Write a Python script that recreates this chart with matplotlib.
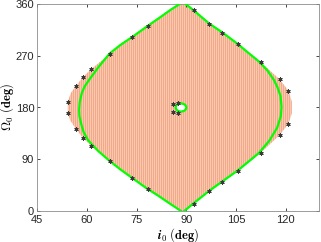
import numpy as np
import matplotlib
matplotlib.use("Agg")
import matplotlib.pyplot as plt
from matplotlib.patches import Polygon, Ellipse

plt.rcParams["font.family"] = ["Liberation Sans", "DejaVu Sans"]
plt.rcParams["mathtext.fontset"] = "cm"

# envelope curve (green), left and right branches: (i0, Omega0)
left_i = [88.4, 84.5, 81.7, 77.9, 73.8, 70.2, 66.9, 63.5, 60.4, 59.0, 58.3, 57.8, 57.7,
          57.9, 58.5, 59.4, 60.7, 63.5, 66.9, 70.2, 73.8, 77.9, 81.9, 85.3, 88.0]
left_om = [0, 15, 26, 40, 57, 72, 87, 104, 123, 138, 152, 165, 176,
           190, 205, 217, 228, 250, 274, 289, 303, 320, 336, 350, 360]
right_i = [89.4, 91.9, 96.9, 101.0, 105.4, 109.0, 111.9, 115.0, 117.4, 118.5, 118.7,
           118.4, 117.5, 116.4, 114.5, 111.9, 108.5, 105.4, 101.0, 96.9, 92.0, 89.8]
right_om = [0, 12, 35, 52, 70, 87, 101, 122, 145, 165, 181,
            200, 215, 228, 244, 260, 276, 291, 310, 326, 350, 360]

# numerical results (stars)
star_i = [78.4, 73.7, 66.9, 61.4, 58.9, 56.7, 54.4, 54.4, 56.7, 58.9, 61.4, 66.9, 73.6, 78.4,
          92.2, 96.9, 100.9, 105.6, 112.4, 118.1, 120.6, 120.6, 118.1, 112.4, 105.6, 100.9, 96.9, 92.2,
          85.9, 87.6, 85.9, 87.6]
star_om = [39, 58, 87, 113, 127, 143, 171, 190, 217, 233, 247, 273, 303, 322,
           12, 35, 50, 70, 101, 132, 152, 209, 229, 259, 290, 309, 326, 350,
           186, 188, 173, 170]

# outline of the feasible region (striped)
reg_i = [88.8, 78.4, 73.7, 66.9, 61.4, 58.9, 56.7, 55.0, 54.3, 54.3, 55.2, 56.7, 58.9, 61.4,
         66.9, 73.6, 78.4, 88.0, 89.6, 92.2, 96.9, 100.9, 105.6, 112.4, 118.1, 120.8, 121.8,
         121.8, 120.8, 118.1, 112.4, 105.6, 100.9, 96.9, 92.2, 89.4]
reg_om = [0, 39, 58, 87, 113, 127, 143, 158, 171, 190, 205, 217, 233, 247,
          273, 303, 322, 360, 360, 350, 326, 309, 290, 259, 229, 209, 190,
          170, 152, 132, 101, 70, 50, 35, 12, 0]

# small inner loop
loop_center = (88.4, 180)
loop_w, loop_h = 3.2, 14

W, H = 321, 242
ax_px = (37, 31, 282, 207)  # left, bottom, width, height in pixels
x_min, x_max = 45, 130

fig = plt.figure(figsize=(W / 100, H / 100), dpi=100)
ax = fig.add_axes([ax_px[0] / W, ax_px[1] / H, ax_px[2] / W, ax_px[3] / H])

region = Polygon(np.column_stack([reg_i, reg_om]), closed=True, facecolor="#FBE0D4",
                 edgecolor="none", linewidth=0, zorder=1)
ax.add_patch(region)
# vertical stripes every 2 px, clipped to the region
deg_per_px = (x_max - x_min) / ax_px[2]
stripe_x = x_min + (0.5 + 2 * np.arange(ax_px[2] // 2)) * deg_per_px
stripes = ax.vlines(stripe_x, 0, 360, colors="#F4A886", linewidth=1.05, zorder=1.5,
                    snap=False)
stripes.set_clip_path(region)
ax.add_patch(Ellipse(loop_center, loop_w, loop_h, facecolor="white", edgecolor="#00FF00",
                     linewidth=1.6, zorder=3))

ax.plot(left_i, left_om, color="#00FF00", linewidth=1.6, zorder=3)
ax.plot(right_i, right_om, color="#00FF00", linewidth=1.6, zorder=3)
ax.plot(star_i, star_om, linestyle="none", marker=(6, 2, 0), markersize=3,
        markeredgewidth=0.7, color="#3a3a3a", zorder=4)

ax.set_xlim(x_min, x_max)
ax.set_ylim(0, 360)
ax.set_xticks([45, 60, 75, 90, 105, 120])
ax.set_yticks([0, 90, 180, 270, 360])
ax.tick_params(direction="in", length=2.5, width=0.6, labelsize=8, colors="#262626",
               top=True, right=True)
ax.tick_params(axis="x", pad=3)
ax.tick_params(axis="y", pad=2)
for s in ax.spines.values():
    s.set_color("#8c8c8c")
    s.set_linewidth(0.6)

ax.set_xlabel(r"$\boldsymbol{i}_\mathbf{0}\ \mathbf{(deg)}$", fontsize=9, labelpad=1)
ax.set_ylabel(r"$\mathbf{\Omega_0}\ \mathbf{(deg)}$", fontsize=9, labelpad=0)

fig.savefig("out.png", dpi=100)
